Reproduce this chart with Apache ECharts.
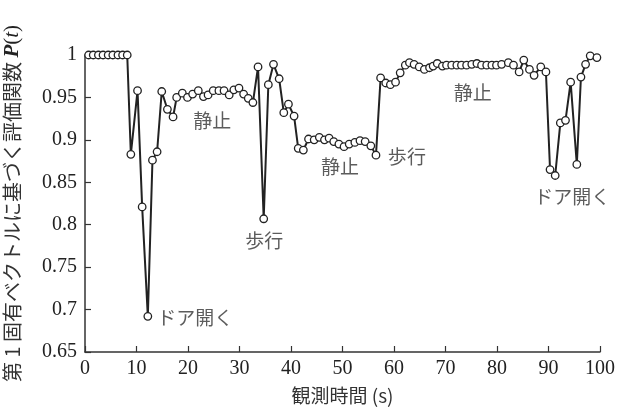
<!DOCTYPE html>
<html><head><meta charset="utf-8">
<script src="https://cdn.jsdelivr.net/npm/echarts@6/dist/echarts.min.js"></script>
<style>html,body{margin:0;padding:0;background:#fff}#c{width:627px;height:410px}</style>
</head><body><div id="c"></div>
<script>
var timeS = [0.7,1.6,2.6,3.5,4.5,5.4,6.4,7.3,8.2,8.9,10.2,11.1,12.2,13.1,14.0,14.9,16.0,17.1,17.8,18.9,19.9,20.9,22.0,23.0,23.9,24.9,26.0,27.0,28.0,28.9,29.9,30.8,31.7,32.6,33.6,34.7,35.6,36.6,37.7,38.6,39.5,40.6,41.4,42.4,43.4,44.5,45.5,46.5,47.4,48.3,49.3,50.3,51.3,52.4,53.4,54.4,55.5,56.5,57.4,58.4,59.3,60.3,61.2,62.2,63.0,63.9,64.9,65.9,66.9,67.6,68.4,69.4,70.2,71.2,72.2,73.1,74.1,75.1,76.1,77.0,78.0,79.0,79.9,80.9,82.2,83.2,84.3,85.2,86.3,87.2,88.5,89.5,90.3,91.3,92.3,93.3,94.3,95.5,96.3,97.2,98.1,99.4];
var pValues = [1,1,1,1,1,1,1,1,1,0.883,0.958,0.821,0.692,0.876,0.886,0.957,0.936,0.927,0.950,0.955,0.950,0.954,0.958,0.951,0.953,0.958,0.958,0.958,0.953,0.959,0.961,0.954,0.949,0.944,0.986,0.807,0.965,0.989,0.972,0.932,0.942,0.928,0.890,0.888,0.901,0.900,0.903,0.900,0.902,0.898,0.895,0.892,0.895,0.897,0.899,0.898,0.893,0.882,0.973,0.967,0.965,0.968,0.979,0.988,0.991,0.989,0.986,0.983,0.985,0.987,0.990,0.987,0.988,0.988,0.988,0.988,0.988,0.989,0.990,0.988,0.988,0.988,0.988,0.989,0.991,0.988,0.980,0.994,0.983,0.976,0.986,0.980,0.865,0.858,0.920,0.923,0.968,0.871,0.974,0.989,0.999,0.997];
var annotTexts = ['静止','ドア開く','歩行','静止','歩行','静止','ドア開く'];
var annotX = [24.7,21.4,34.8,49.5,62.5,75.3,94.6];
var annotY = [0.922,0.690,0.781,0.868,0.880,0.955,0.833];

var serif = '"Liberation Serif","DejaVu Serif",serif';
var cjk = '"Noto Sans CJK JP","Noto Sans CJK SC",sans-serif';
var chart = echarts.init(document.getElementById('c'));
chart.setOption({
  animation: false,
  backgroundColor: '#fff',
  grid: {left: 85, right: 27, top: 55, bottom: 58, containLabel: false, outerBoundsMode: 'none'},
  xAxis: {
    type: 'value', min: 0, max: 100, interval: 10,
    name: '観測時間 (s)', nameLocation: 'middle', nameGap: 34,
    nameTextStyle: {fontFamily: cjk, fontSize: 19, color: '#333'},
    axisLine: {onZero: false, lineStyle: {color: '#333', width: 1.5}},
    axisTick: {inside: true, length: 6, lineStyle: {color: '#333', width: 1.2}},
    axisLabel: {fontFamily: serif, fontSize: 20, color: '#222', margin: 7},
    splitLine: {show: false}
  },
  yAxis: {
    type: 'value', min: 0.65, max: 1, interval: 0.05,
    name: '{a|第 1 固有ベクトルに基づく評価関数 }{b|P}{c|(}{d|t}{c|)}',
    nameLocation: 'middle', nameGap: 62, nameRotate: 90,
    nameTextStyle: {
      color: '#333',
      rich: {
        a: {fontFamily: cjk, fontSize: 20, color: '#333'},
        b: {fontFamily: serif, fontSize: 21, fontStyle: 'italic', fontWeight: 'bold', color: '#222'},
        c: {fontFamily: serif, fontSize: 21, color: '#222'},
        d: {fontFamily: serif, fontSize: 21, fontStyle: 'italic', color: '#222'}
      }
    },
    axisLine: {show: true, lineStyle: {color: '#333', width: 1.5}},
    axisTick: {show: true, inside: true, length: 6, lineStyle: {color: '#333', width: 1.2}},
    axisLabel: {fontFamily: serif, fontSize: 20, color: '#222', margin: 8},
    splitLine: {show: false}
  },
  series: [
    {
      type: 'line',
      data: timeS.map(function (t, i) { return [t, pValues[i]]; }),
      symbol: 'circle', symbolSize: 7.5, showAllSymbol: true,
      lineStyle: {color: '#222', width: 2},
      itemStyle: {color: '#fff', borderColor: '#222', borderWidth: 1.3},
      z: 3
    },
    {
      type: 'scatter',
      data: annotX.map(function (x, i) { return {value: [x, annotY[i]], name: annotTexts[i]}; }),
      symbolSize: 0, silent: true,
      label: {show: true, position: 'inside', formatter: '{b}', fontFamily: cjk, fontSize: 19, color: '#333'},
      z: 4
    }
  ]
});
</script></body></html>
